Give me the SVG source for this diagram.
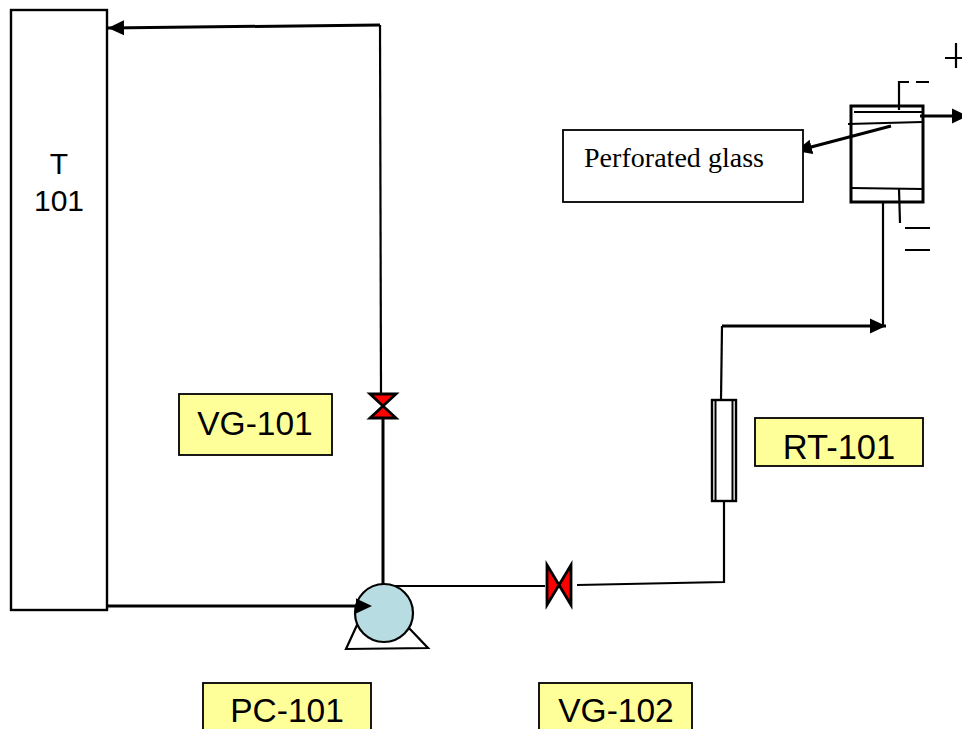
<svg xmlns="http://www.w3.org/2000/svg" width="962" height="729" viewBox="0 0 962 729">
<defs>
<marker id="arrow" markerUnits="userSpaceOnUse" markerWidth="17" markerHeight="16" refX="16" refY="8" orient="auto"><path d="M0,0.5 L16,8 L0,15.5 Z" fill="#000"/></marker>
</defs>
<style>
.box{fill:#ffff99;stroke:#000;stroke-width:1.8}
.lab{font-family:"Liberation Sans",Arial,sans-serif;font-size:33.500px;fill:#000;text-anchor:middle}
.ln{fill:none;stroke:#000;stroke-width:2.2}
.thick{fill:none;stroke:#000;stroke-width:3}
.valve{fill:#ff0000;stroke:#000;stroke-width:2.8}
</style>
<rect width="962" height="729" fill="#fff"/>
<g id="connectors">
<path class="ln" d="M381,394 L380,25"/>
<path class="thick" d="M380,25 L108,28" marker-end="url(#arrow)"/>
<path class="thick" d="M108,606 L372,606" marker-end="url(#arrow)"/>
<path class="thick" d="M383,419 L383,586"/>
<path class="ln" d="M395,586 L545,586"/>
<path class="ln" d="M577,585 L724,582 L724,501"/>
<path class="ln" d="M721,400 L722,326"/>
<path class="thick" d="M722,326 L886,326" marker-end="url(#arrow)"/>
<path class="ln" d="M883,326 L883,202"/>
<path class="thick" d="M891,126 L796,151" marker-end="url(#arrow)"/>
<path class="thick" d="M920,116 L968,116" marker-end="url(#arrow)"/>
</g>
<g id="T-101">
<rect x="11" y="10" width="96" height="600" fill="#fff" stroke="#000" stroke-width="2.4"/>
<text class="lab" x="59" y="174" style="font-size:30px">T</text>
<text class="lab" x="59" y="211" style="font-size:30px">101</text>
</g>
<g id="VG-101">
<path class="valve" d="M370,394 L396,394 L370,418 L396,418 Z"/>
<rect class="box" x="179" y="394" width="153" height="61"/>
<text class="lab" x="255" y="435">VG-101</text>
</g>
<g id="VG-102">
<path class="valve" d="M547,565 L571,605 L571,565 L547,605 Z"/>
<rect class="box" x="539" y="683" width="153" height="60"/>
<text class="lab" x="616" y="722">VG-102</text>
</g>
<g id="PC-101">
<path class="ln" d="M357,625 L346,649 L428,648 L408,627"/>
<circle cx="384" cy="613" r="29" fill="#b7dde3" stroke="#000" stroke-width="2.2"/>
<path d="M356,598.500 L372,606 L356,613.500 Z" fill="#000"/>
<rect class="box" x="203" y="683" width="168" height="60"/>
<text class="lab" x="287" y="722">PC-101</text>
</g>
<g id="RT-101">
<rect x="712" y="400" width="24" height="101" fill="#fff" stroke="#000" stroke-width="2.4"/>
<path d="M715.500,400 V501 M732.500,400 V501" stroke="#000" stroke-width="2" fill="none"/>
<rect class="box" x="755" y="418" width="168" height="48"/>
<text class="lab" x="839" y="459" style="font-size:34.500px">RT-101</text>
</g>
<g id="perforated-glass">
<rect x="563" y="130" width="240" height="72" fill="#fff" stroke="#000" stroke-width="1.8"/>
<text x="584" y="167" font-family="'Liberation Serif','Times New Roman',serif" font-size="28" fill="#000" textLength="180">Perforated glass</text>
</g>
<g id="cell">
<rect x="851" y="106" width="72" height="96" fill="none" stroke="#000" stroke-width="3"/>
<path class="ln" d="M854,112 L922,112 M848,124 L922,122 M851,188 L923,189"/>
<path class="ln" d="M899,110 L899,82 L909,82 M916,82 L929,82 M899,189 L900,223"/>
<path class="ln" d="M905,228 L930,228 M905,250 L930,250 M945,58 L962,58 M956,43 L956,68"/>
</g>
</svg>
